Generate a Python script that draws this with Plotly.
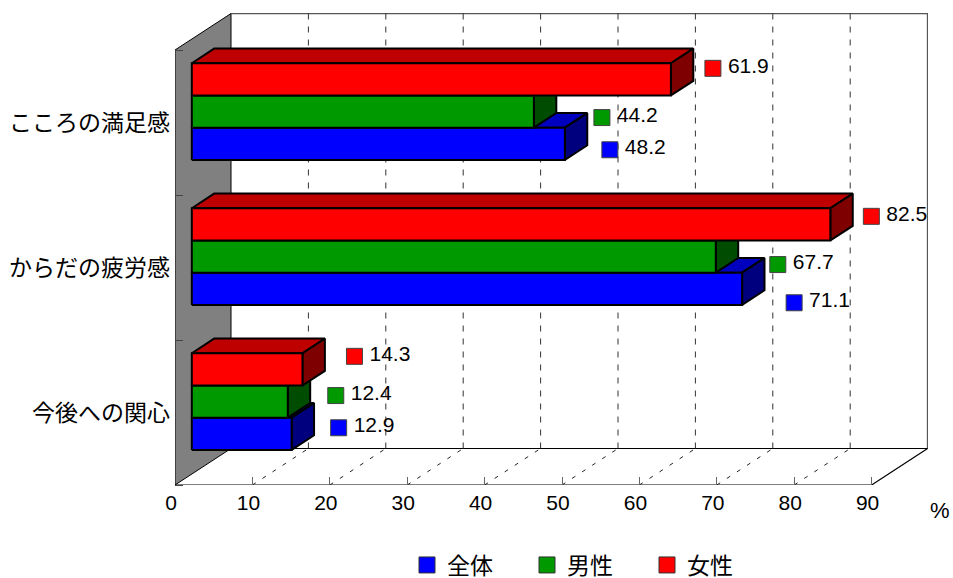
import plotly.graph_objects as go

# ---- data ----
categories = ["今後への関心", "からだの疲労感", "こころの満足感"]
series_names = ["全体", "男性", "女性"]
zentai = [12.9, 71.1, 48.2]
dansei = [12.4, 67.7, 44.2]
josei = [14.3, 82.5, 61.9]
x_ticks = [0, 10, 20, 30, 40, 50, 60, 70, 80, 90]
unit_label = "%"

# ---- geometry / style (kept apart from the data) ----
PX_X = 7.74          # px per percent
PX_Y = 145.0         # px per category
L, T, R, B = 175, 13, 928, 485
DEPTH_X, DEPTH_Y = 56.0, 36.5
BAR_D0, BAR_D1 = 0.30, 0.70
BAR_H = 2 / 9
XMAX = 90
NCAT = len(categories)
JP = "Noto Sans CJK JP"
NUM = "Liberation Sans"

front = ["#0000ff", "#009900", "#ff0000"]
top = ["#0000bf", "#007300", "#bf0000"]
side = ["#00007f", "#004c00", "#7f0000"]
label_dx = [[47, 52, 45], [48, 62, 68], [52, 41, 42]]
label_dy = [[-6, 14, 6], [-6, 8, 6], [-13, -8, -11]]
TEXT_DX, TEXT_DY = 15, -1


def proj(v, c, d):
    return v + d * DEPTH_X / PX_X, c + d * DEPTH_Y / PX_Y


def poly(points, fill=None, line="black", width=1, dash=None, close=True):
    pts = list(points) + ([points[0]] if close else [])
    return go.Scatter(
        x=[p[0] for p in pts], y=[p[1] for p in pts], mode="lines",
        fill="toself" if fill else None, fillcolor=fill,
        line=dict(color=line, width=width, dash=dash),
        hoverinfo="skip", showlegend=False, cliponaxis=False,
    )


fig = go.Figure()

# side wall
fig.add_trace(poly([proj(0, 0, 0), proj(0, 0, 1), proj(0, NCAT, 1), proj(0, NCAT, 0)],
                   fill="#808080", line="#000000", width=1))

# back wall and floor edges
fig.add_trace(poly([proj(0, NCAT, 1), proj(XMAX, NCAT, 1), proj(XMAX, 0, 1)],
                   line="#555555", width=1.5, close=False))
fig.add_trace(poly([proj(0, 0, 1), proj(XMAX, 0, 1), proj(XMAX, 0, 0), proj(0, 0, 0)],
                   line="#000000", width=1.2, close=False))

# dashed gridlines on wall and floor
wx, wy, fx, fy = [], [], [], []
for t in x_ticks[1:-1]:
    a, b = proj(t, 0, 1), proj(t, NCAT, 1)
    wx += [a[0], b[0], None]
    wy += [a[1], b[1], None]
for t in x_ticks[1:-1]:
    a, b = proj(t, 0, 0), proj(t, 0, 1)
    fx += [a[0], b[0], None]
    fy += [a[1], b[1], None]
fig.add_trace(go.Scatter(x=wx, y=wy, mode="lines", hoverinfo="skip", showlegend=False,
                         line=dict(color="#333333", width=1, dash="6px,7px")))
fig.add_trace(go.Scatter(x=fx, y=fy, mode="lines", hoverinfo="skip", showlegend=False,
                         line=dict(color="#222222", width=1, dash="4px,8px")))

# bars, painted from the bottom one up
all_series = [zentai, dansei, josei]
for c in range(NCAT):
    for s, values in enumerate(all_series):
        v = values[c]
        y0 = c + 0.5 + (s - 1.5) * BAR_H
        y1 = y0 + BAR_H
        fig.add_trace(poly([proj(0, y1, BAR_D0), proj(0, y1, BAR_D1), proj(v, y1, BAR_D1), proj(v, y1, BAR_D0)],
                           fill=top[s], width=2))
        fig.add_trace(poly([proj(v, y0, BAR_D0), proj(v, y0, BAR_D1), proj(v, y1, BAR_D1), proj(v, y1, BAR_D0)],
                           fill=side[s], width=2))
        fig.add_trace(poly([proj(0, y0, BAR_D0), proj(v, y0, BAR_D0), proj(v, y1, BAR_D0), proj(0, y1, BAR_D0)],
                           fill=front[s], width=2))

# data labels with their colour keys
for s, values in enumerate(all_series):
    xs, ys, txt = [], [], []
    for c, v in enumerate(values):
        y_mid = c + 0.5 + (s - 1) * BAR_H
        px, py = proj(v, y_mid, BAR_D0)
        xs.append(px + label_dx[s][c] / PX_X)
        ys.append(py - label_dy[s][c] / PX_Y)
        txt.append(f"{v:.1f}")
    fig.add_trace(go.Scatter(
        x=xs, y=ys, mode="markers", cliponaxis=False,
        marker=dict(symbol="square", size=16, color=front[s], line=dict(color="#444444", width=1)),
        hoverinfo="skip", showlegend=False,
    ))
    fig.add_trace(go.Scatter(
        x=[p + TEXT_DX / PX_X for p in xs], y=[p - TEXT_DY / PX_Y for p in ys], text=txt,
        mode="text", textposition="middle right",
        textfont=dict(family=NUM, size=21, color="#000000"), cliponaxis=False,
        hoverinfo="skip", showlegend=False,
    ))

# legend keys
for s, name in enumerate(series_names):
    fig.add_trace(go.Scatter(
        x=[None], y=[None], name=name, mode="markers",
        marker=dict(symbol="square", size=16, color=front[s], line=dict(color="#333333", width=1)),
    ))

fig.update_layout(
    width=953, height=578,
    margin=dict(l=L, r=953 - R, t=T, b=578 - B, autoexpand=False),
    paper_bgcolor="white", plot_bgcolor="white",
    font=dict(family=JP, color="#000000"),
    xaxis=dict(
        range=[0, (R - L) / PX_X], tickmode="array", tickvals=x_ticks,
        ticktext=[str(t) for t in x_ticks],
        ticks="inside", ticklen=8, tickcolor="#666666", tickwidth=1,
        ticklabelshift=-4, ticklabelstandoff=3,
        tickfont=dict(family=NUM, size=21),
        showgrid=False, zeroline=False, showline=False,
    ),
    yaxis=dict(
        range=[0, (B - T) / PX_Y], tickmode="array",
        tickvals=[c + 0.5 for c in range(NCAT)], ticktext=categories,
        ticks="", ticklabelstandoff=4,
        minor=dict(tickmode="array", tickvals=list(range(NCAT + 1)), ticks="inside",
                   ticklen=8, tickcolor="#444444", tickwidth=1, showgrid=False),
        tickfont=dict(family=JP, size=23),
        showgrid=False, zeroline=False, showline=False,
    ),
    legend=dict(
        orientation="h", x=(407 - L) / (R - L), y=-(565 - B) / (B - T), xanchor="left", yanchor="middle",
        font=dict(family=f"{NUM}, {JP}", size=23), entrywidth=75, entrywidthmode="pixels",
        bgcolor="rgba(0,0,0,0)", traceorder="normal",
    ),
    annotations=[dict(
        text=unit_label, xref="paper", yref="paper",
        x=(940 - L) / (R - L), y=-(510 - B) / (B - T), xanchor="center", yanchor="middle",
        showarrow=False, font=dict(family=NUM, size=22),
    )],
)

fig.write_html("out.html", config={"displayModeBar": False},
               post_script="document.body.style.margin='0';")
